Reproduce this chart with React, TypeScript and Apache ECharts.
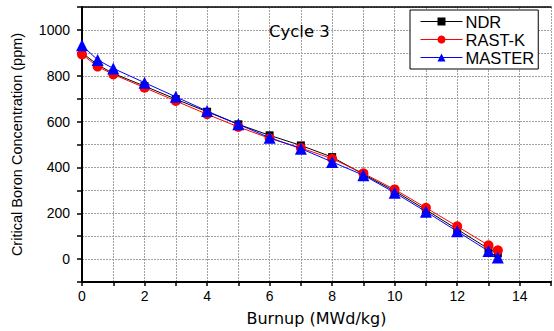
import React, { useEffect, useRef } from "react";
import * as echarts from "echarts";

const burnup = [0, 0.5, 1, 2, 3, 4, 5, 6, 7, 8, 9, 10, 11, 12, 13, 13.3];
const ndr = [900, 848, 810, 755, 698, 643, 588, 540, 496, 445, 370, 297, 215, 130, 45, 25];
const rastk = [893, 840, 806, 748, 690, 632, 577, 527, 485, 438, 374, 304, 224, 143, 60, 38];
const master = [933, 869, 832, 770, 708, 646, 588, 530, 482, 424, 366, 290, 207, 121, 35, 7];
const seriesNames = ["NDR", "RAST-K", "MASTER"];
const xTickLabels = [0, 2, 4, 6, 8, 10, 12, 14];
const yTickLabels = [0, 200, 400, 600, 800, 1000];

const FONT = "Liberation Sans, Arial, sans-serif";
const WIDE = "DejaVu Sans, Liberation Sans, sans-serif";

export default function App() {
  const ref = useRef<HTMLDivElement>(null);
  useEffect(() => {
    if (!ref.current) return;
    const chart = echarts.init(ref.current, undefined, { renderer: "svg" });
    const mk = (vals: number[]) => burnup.map((x, i) => [x, vals[i]]);
    const colors = ["#000000", "#ff0000", "#0000ff"];
    const symbols = ["rect", "circle", "triangle"];
    const sizes = [8, 10, 12];
    const datas = [ndr, rastk, master];
    const grid = { color: "#a0a0a0", type: [2, 1], width: 1 };
    chart.setOption({
      animation: false,
      backgroundColor: "#ffffff",
      textStyle: { fontFamily: FONT },
      grid: { left: 82, top: 7, right: 0, bottom: 49, show: false },
      title: {
        text: "Cycle 3",
        left: 264,
        top: 18,
        textStyle: { fontFamily: WIDE, fontSize: 16.5, fontWeight: "normal", color: "#000" },
      },
      legend: {
        left: 410,
        top: 10,
        width: 136,
        orient: "vertical",
        backgroundColor: "#fff",
        borderColor: "#000",
        borderWidth: 1,
        borderRadius: 0,
        padding: [3, 4, 3, 10],
        itemGap: 1,
        itemWidth: 42,
        itemHeight: 10,
        lineStyle: { width: 1 },
        textStyle: { fontFamily: FONT, fontSize: 16.5, lineHeight: 17, color: "#000", padding: [0, 0, 0, -2] },
        data: seriesNames,
      },
      xAxis: [
        {
          type: "value",
          min: 0,
          max: 15,
          interval: 1,
          name: "Burnup (MWd/kg)",
          nameLocation: "middle",
          nameGap: 28,
          nameTextStyle: { fontFamily: WIDE, fontSize: 16, color: "#000" },
          axisLine: { onZero: false, lineStyle: { color: "#000", width: 2 } },
          axisTick: { show: true, length: 4, lineStyle: { color: "#000", width: 1.5 } },
          axisLabel: {
            fontFamily: FONT,
            fontSize: 14,
            color: "#000",
            margin: 7,
            formatter: (v: number) => (xTickLabels.includes(v) ? String(v) : ""),
          },
          splitLine: { show: true, lineStyle: grid },
        },
        {
          type: "value",
          position: "top",
          min: 0,
          max: 15,
          interval: 1,
          axisLine: { show: true, onZero: false, lineStyle: { color: "#000", width: 1.5 } },
          axisTick: { show: false },
          axisLabel: { show: false },
          splitLine: { show: false },
        },
      ],
      yAxis: {
        type: "value",
        min: -100,
        max: 1100,
        interval: 100,
        name: "Critical Boron Concentration (ppm)",
        nameLocation: "middle",
        nameGap: 58,
        nameTextStyle: { fontFamily: FONT, fontSize: 14.5, color: "#000" },
        axisLine: { show: true, onZero: false, lineStyle: { color: "#000", width: 2 } },
        axisTick: { show: true, length: 5, lineStyle: { color: "#000", width: 1.5 } },
        axisLabel: {
          fontFamily: FONT,
          fontSize: 14,
          color: "#000",
          margin: 12,
          formatter: (v: number) => (yTickLabels.includes(v) ? String(v) : ""),
        },
        splitLine: { show: true, lineStyle: grid },
      },
      series: seriesNames.map((name, i) => ({
        name,
        type: "line",
        data: mk(datas[i]),
        symbol: symbols[i],
        symbolSize: sizes[i],
        showAllSymbol: true,
        lineStyle: { color: colors[i], width: 1 },
        itemStyle: { color: colors[i] },
        z: i === 2 ? 4 : i === 1 ? 3 : 2,
      })),
    });
    return () => chart.dispose();
  }, []);
  return <div ref={ref} style={{ width: 554, height: 331, position: "absolute", left: 0, top: 0, overflow: "hidden" }} />;
}
